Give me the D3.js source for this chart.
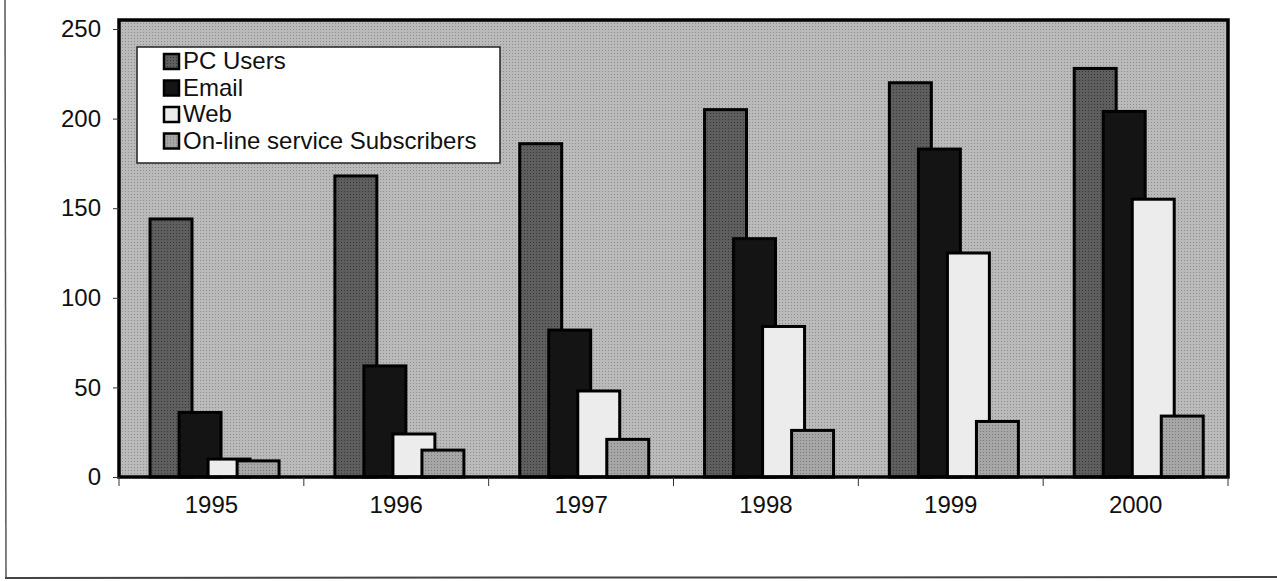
<!DOCTYPE html>
<html>
<head>
<meta charset="utf-8">
<script src="https://cdn.jsdelivr.net/npm/d3@7"></script>
<style>
  body { margin: 0; background: #fff; }
  svg text { font-family: "Liberation Sans", Arial, sans-serif; fill: #111; }
</style>
</head>
<body>
<div id="chart"></div>
<script>
var years = ["1995", "1996", "1997", "1998", "1999", "2000"]
var seriesNames = ["PC Users", "Email", "Web", "On-line service Subscribers"]
var pcUsers = [144, 168, 186, 205, 220, 228]
var email = [36, 62, 82, 133, 183, 204]
var web = [10, 24, 48, 84, 125, 155]
var online = [9, 15, 21, 26, 31, 34]
var yTicks = [0, 50, 100, 150, 200, 250]

var seriesValues = [pcUsers, email, web, online]
var fills = ["#5c5c5c", "#141414", "#ececec", "#a3a3a3"]

var width = 1277, height = 581
var margin = {top: 20, right: 49, bottom: 104, left: 119}
var plotW = width - margin.left - margin.right
var plotH = height - margin.top - margin.bottom

var svg = d3.select("#chart").append("svg")
  .attr("width", width)
  .attr("height", height)

// dotted texture like the scanned print
var defs = svg.append("defs")
function stipple(id, base, dot) {
  var p = defs.append("pattern")
    .attr("id", id)
    .attr("width", 3).attr("height", 3)
    .attr("patternUnits", "userSpaceOnUse")
  p.append("rect").attr("width", 3).attr("height", 3).attr("fill", base)
  p.append("rect").attr("width", 1).attr("height", 1).attr("fill", dot)
}
stipple("bgPat", "#bababa", "#8e8e8e")
stipple("pcPat", "#5e5e5e", "#383838")
stipple("onPat", "#a6a6a6", "#7a7a7a")

var patFills = ["url(#pcPat)", fills[1], fills[2], "url(#onPat)"]

// page edges of the scan
svg.append("line").attr("x1", 5).attr("y1", 0).attr("x2", 6).attr("y2", 578)
  .attr("stroke", "#555").attr("stroke-width", 1.5)
svg.append("line").attr("x1", 5).attr("y1", 578).attr("x2", 1277).attr("y2", 577)
  .attr("stroke", "#444").attr("stroke-width", 2)

var g = svg.append("g")
  .attr("transform", "translate(" + margin.left + "," + margin.top + ")")

var x = d3.scaleBand().domain(years).range([0, plotW]).padding(0)
var y = d3.scaleLinear().domain([0, 250]).range([plotH, 9])

g.append("rect")
  .attr("width", plotW).attr("height", plotH)
  .attr("fill", "url(#bgPat)")

var bw = x.bandwidth()
var barW = bw * 0.227
var step = bw * 0.157
var offset = bw * 0.168

seriesValues.forEach(function(vals, s) {
  g.selectAll(".bar" + s)
    .data(vals)
    .enter()
    .append("rect")
      .attr("class", "bar" + s)
      .attr("x", function(d, i) { return x(years[i]) + offset + s * step })
      .attr("y", function(d) { return y(d) })
      .attr("width", barW)
      .attr("height", function(d) { return plotH - y(d) })
      .attr("fill", patFills[s])
      .attr("stroke", "#000")
      .attr("stroke-width", 3)
})

// plot frame
g.append("rect")
  .attr("width", plotW).attr("height", plotH)
  .attr("fill", "none").attr("stroke", "#000").attr("stroke-width", 3.5)

// y axis
var yAxis = d3.axisLeft(y).tickValues(yTicks).tickSize(6).tickPadding(12)
var ya = g.append("g").call(yAxis)
ya.select(".domain").remove()
ya.selectAll("text").style("font-size", "24px")
ya.selectAll("line").attr("stroke", "#333")

// x axis
var xa = g.append("g").attr("transform", "translate(0," + plotH + ")")
xa.selectAll("line")
  .data(years.concat(["end"]))
  .enter()
  .append("line")
    .attr("x1", function(d, i) { return i * bw })
    .attr("x2", function(d, i) { return i * bw })
    .attr("y1", 0).attr("y2", 9)
    .attr("stroke", "#333")
xa.selectAll("text")
  .data(years)
  .enter()
  .append("text")
    .attr("x", function(d) { return x(d) + bw / 2 })
    .attr("y", 36)
    .attr("text-anchor", "middle")
    .style("font-size", "24px")
    .text(function(d) { return d })

// legend
var lg = g.append("g").attr("transform", "translate(18,27)")
lg.append("rect")
  .attr("width", 363).attr("height", 116)
  .attr("fill", "#fff").attr("stroke", "#222").attr("stroke-width", 1.5)
var items = lg.selectAll(".item")
  .data(seriesNames)
  .enter()
  .append("g")
    .attr("class", "item")
    .attr("transform", function(d, i) { return "translate(27," + (1 + i * 26.5) + ")" })
items.append("rect")
  .attr("y", 6).attr("width", 15).attr("height", 15)
  .attr("fill", function(d, i) { return patFills[i] })
  .attr("stroke", "#000").attr("stroke-width", 2.5)
items.append("text")
  .attr("x", 19).attr("y", 21)
  .style("font-size", "24px")
  .text(function(d) { return d })
</script>
</body>
</html>
